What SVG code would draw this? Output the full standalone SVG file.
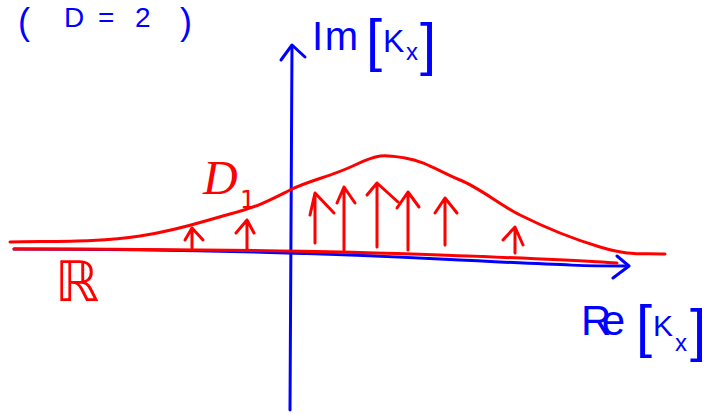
<svg xmlns="http://www.w3.org/2000/svg" width="708" height="414" viewBox="0 0 708 414">
<defs>
<style>
.b{fill:none;stroke:#0000ff;stroke-width:3;stroke-linecap:round;stroke-linejoin:round}
.r{fill:none;stroke:#ff0000;stroke-width:3;stroke-linecap:round;stroke-linejoin:round}
.tb{fill:#0000ff;font-family:"Liberation Sans",Arial,sans-serif}
.tr{fill:#ff0000;font-family:"DejaVu Sans",sans-serif}
</style>
</defs>
<rect width="708" height="414" fill="#ffffff"/>
<g id="axes">
<path class="b" d="M14,249 C150,249 300,252 440,259 S590,266 625,266"/>
<polyline class="b" points="617,256 629,266 613,278"/>
<path class="b" d="M290,410 L292,46"/>
<polyline class="b" points="281,60 292,45 305,57"/>
</g>
<g id="curves">
<path class="r" d="M10,242 C60,241 100,242 140,236 S200,222 230,214 S270,200 290,190 S330,177 355,165 S385,155 405,158 S440,172 460,180 S500,205 520,215 S570,238 600,247 S640,253 665,254"/>
<path class="r" d="M14,249 C150,249 300,250 440,255 S580,261 617,263"/>
</g>
<g id="arrows">
<path class="r" d="M192,248 V228 M185,240 L192,228 L203,240"/>
<path class="r" d="M247,250 V220 M236,233 L247,220 L254,233"/>
<path class="r" d="M315,243 V193 M310,215 L315,193 L334,213"/>
<path class="r" d="M344,250 V187 M337,203 L344,187 L355,203"/>
<path class="r" d="M377,247 V183 M367,195 L377,183 L398,202"/>
<path class="r" d="M408,250 V192 M397,208 L408,192 L419,207"/>
<path class="r" d="M445,245 V198 M435,213 L445,198 L457,213"/>
<path class="r" d="M515,253 V227 M503,240 L515,227 L523,245"/>
</g>
<g id="labels">
<text class="tb" font-size="36" x="18" y="34">(</text>
<text class="tb" font-size="28" x="64" y="27">D</text>
<text class="tb" font-size="28" x="98" y="27">=</text>
<text class="tb" font-size="28" x="135" y="27">2</text>
<text class="tb" font-size="36" x="180" y="34">)</text>
<text class="tb" font-size="40" x="312" y="50" textLength="46">Im</text>
<text class="tb" font-size="58" x="366" y="60">[</text>
<text class="tb" font-size="32" x="383" y="52">K</text>
<text class="tb" font-size="24" x="406" y="60">x</text>
<text class="tb" font-size="58" x="420" y="64">]</text>
<text class="tb" font-size="42" x="581" y="335" textLength="44">Re</text>
<text class="tb" font-size="58" x="636" y="346">[</text>
<text class="tb" font-size="30" x="653" y="336">K</text>
<text class="tb" font-size="24" x="675" y="351">x</text>
<text class="tb" font-size="58" x="690" y="350">]</text>
<text class="tr" font-size="56" x="55" y="301">ℝ</text>
<text fill="#ff0000" font-family="'Liberation Serif',serif" font-style="italic" font-size="48" x="203" y="194">D</text>
<text class="tr" font-size="24" x="240" y="208">1</text>
</g>
</svg>
